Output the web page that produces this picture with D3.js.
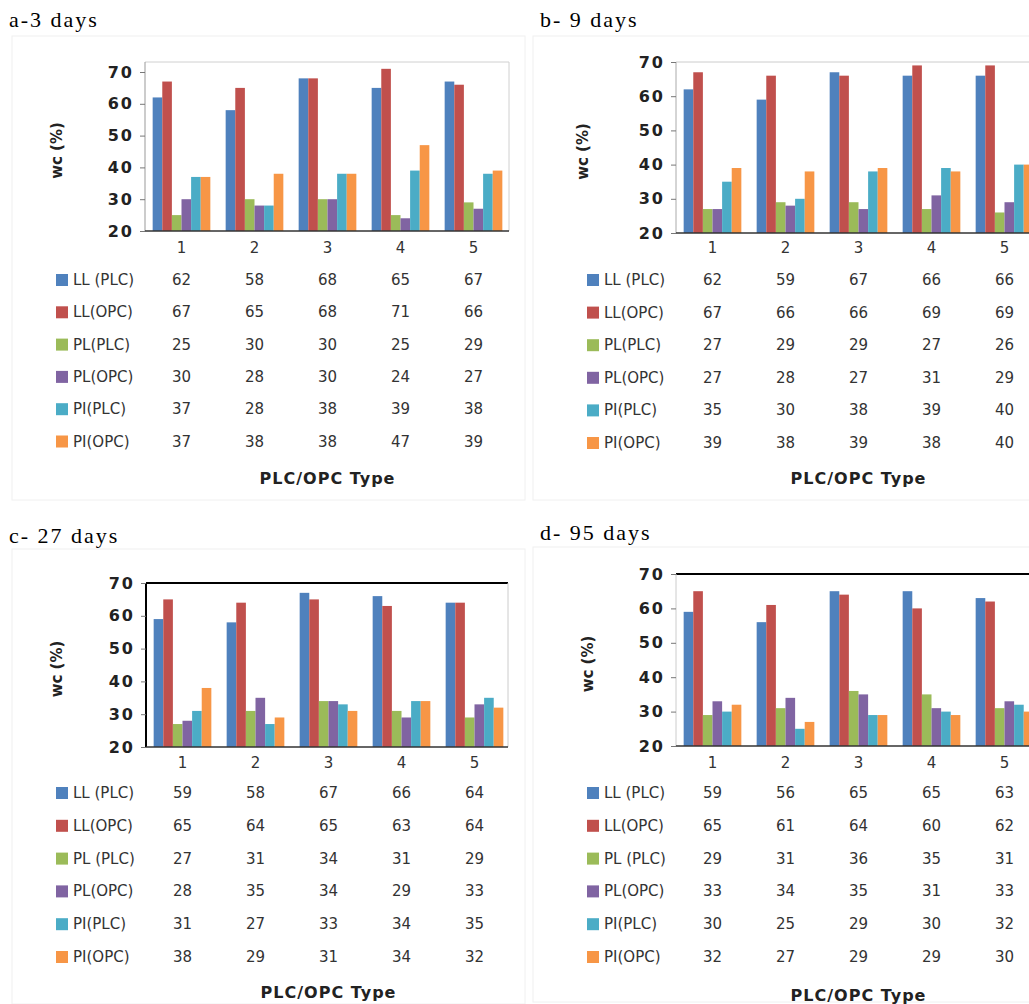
<!DOCTYPE html>
<html>
<head>
<meta charset="utf-8">
<script src="https://cdn.jsdelivr.net/npm/d3@7"></script>
<style>
  body { margin: 0; background: #fff; }
  svg { display: block; }
</style>
</head>
<body>
<svg id="chart" width="1029" height="1004"></svg>
<script>
// categories (PLC/OPC type) and series
var categories = ["1", "2", "3", "4", "5"];
var seriesColors = ["#4F81BD", "#C0504D", "#9BBB59", "#8064A2", "#4BACC6", "#F79646"];
var yTicks = [20, 30, 40, 50, 60, 70];

var labels3 = ["LL (PLC)", "LL(OPC)", "PL(PLC)", "PL(OPC)", "PI(PLC)", "PI(OPC)"];
var labels27 = ["LL (PLC)", "LL(OPC)", "PL (PLC)", "PL(OPC)", "PI(PLC)", "PI(OPC)"];

// one row per series, one value per category
var days3 = [
  [62, 58, 68, 65, 67],
  [67, 65, 68, 71, 66],
  [25, 30, 30, 25, 29],
  [30, 28, 30, 24, 27],
  [37, 28, 38, 39, 38],
  [37, 38, 38, 47, 39]
];
var days9 = [
  [62, 59, 67, 66, 66],
  [67, 66, 66, 69, 69],
  [27, 29, 29, 27, 26],
  [27, 28, 27, 31, 29],
  [35, 30, 38, 39, 40],
  [39, 38, 39, 38, 40]
];
var days27 = [
  [59, 58, 67, 66, 64],
  [65, 64, 65, 63, 64],
  [27, 31, 34, 31, 29],
  [28, 35, 34, 29, 33],
  [31, 27, 33, 34, 35],
  [38, 29, 31, 34, 32]
];
var days95 = [
  [59, 56, 65, 65, 63],
  [65, 61, 64, 60, 62],
  [29, 31, 36, 35, 31],
  [33, 34, 35, 31, 33],
  [30, 25, 29, 30, 32],
  [32, 27, 29, 29, 30]
];

// layout of the four panels
var panels = [
  {title: "a-3 days", data: days3, names: labels3, tx: 9, ty: 27,
   frame: [12, 36, 513, 464], left: 145, right: 509, y20: 231, y70: 72, top: 62,
   catY: 248, row0: 280, rowStep: 32.3, xTitleY: 478, legX: 56, wcX: 57,
   leftCol: "#999", topCol: "#d0d0d0", topW: 1, rightCol: "#d0d0d0"},
  {title: "b- 9 days", data: days9, names: labels3, tx: 540, ty: 27,
   frame: [533, 36, 520, 464], left: 676, right: 1045, y20: 233, y70: 62, top: 62,
   catY: 248, row0: 280, rowStep: 32.6, xTitleY: 478, legX: 587, wcX: 583,
   leftCol: "#aaa", topCol: "#ccc", topW: 1, rightCol: null},
  {title: "c- 27 days", data: days27, names: labels27, tx: 9, ty: 543,
   frame: [12, 549, 513, 455], left: 146, right: 508, y20: 747, y70: 583, top: 583,
   catY: 763, row0: 793, rowStep: 32.8, xTitleY: 992, legX: 56, wcX: 57,
   leftCol: "#000", topCol: "#000", topW: 2, rightCol: "#ccc"},
  {title: "d- 95 days", data: days95, names: labels27, tx: 540, ty: 540,
   frame: [533, 547, 520, 455], left: 676, right: 1045, y20: 746, y70: 574, top: 574,
   catY: 763, row0: 793, rowStep: 32.8, xTitleY: 995, legX: 587, wcX: 588,
   leftCol: "#ccc", topCol: "#000", topW: 2, rightCol: null}
];

var svg = d3.select("#chart");

panels.forEach(function(p) {
  var g = svg.append("g");

  // faint chart-area border
  g.append("rect")
    .attr("x", p.frame[0]).attr("y", p.frame[1])
    .attr("width", p.frame[2]).attr("height", p.frame[3])
    .attr("fill", "none").attr("stroke", "#f0f0f0");

  g.append("text")
    .attr("x", p.tx).attr("y", p.ty)
    .attr("font-family", "Liberation Serif, serif")
    .attr("font-size", 22).attr("letter-spacing", 2)
    .attr("fill", "#000")
    .text(p.title);

  var x0 = d3.scaleBand().domain(categories).range([p.left, p.left + 5 * 73])
    .paddingInner(0.21).paddingOuter(0.105);
  var x1 = d3.scaleBand().domain(d3.range(6)).range([0, x0.bandwidth()]);
  var y = d3.scaleLinear().domain([20, 70]).range([p.y20, p.y70]);

  // top and right plot frame
  g.append("line")
    .attr("x1", p.left).attr("x2", p.right).attr("y1", p.top).attr("y2", p.top)
    .attr("stroke", p.topCol).attr("stroke-width", p.topW);
  if (p.rightCol) {
    g.append("line")
      .attr("x1", p.right).attr("x2", p.right).attr("y1", p.top).attr("y2", p.y20)
      .attr("stroke", p.rightCol);
  }

  // bars
  var groups = g.selectAll("g.series")
    .data(p.data)
    .enter().append("g")
    .attr("class", "series")
    .attr("fill", function(d, i) { return seriesColors[i]; });

  groups.each(function(vals, si) {
    d3.select(this).selectAll("rect")
      .data(vals)
      .enter().append("rect")
      .attr("x", function(d, ci) { return x0(categories[ci]) + x1(si); })
      .attr("width", x1.bandwidth())
      .attr("y", function(d) { return y(d); })
      .attr("height", function(d) { return y(20) - y(d); });
  });

  // y axis
  var yAxis = d3.axisLeft(y).tickValues(yTicks).tickSize(5).tickPadding(6);
  var ya = g.append("g")
    .attr("transform", "translate(" + p.left + ",0)")
    .call(yAxis);
  ya.select(".domain").attr("stroke", p.leftCol)
    .attr("stroke-width", p.leftCol === "#000" ? 2 : 1)
    .attr("d", "M0," + p.y20 + "V" + p.top);
  ya.selectAll(".tick line").attr("stroke", "#777");
  ya.selectAll(".tick text")
    .attr("font-family", "DejaVu Sans, sans-serif")
    .attr("font-size", 16).attr("font-weight", "bold")
    .attr("letter-spacing", 2).attr("fill", "#222");

  // x axis line
  g.append("line")
    .attr("x1", p.left).attr("x2", p.right).attr("y1", p.y20).attr("y2", p.y20)
    .attr("stroke", "#333").attr("stroke-width", 1.5);

  // y title
  g.append("text")
    .attr("transform", "translate(" + p.wcX + "," + ((p.top + p.y20) / 2 + 4) + ") rotate(-90)")
    .attr("text-anchor", "middle").attr("dominant-baseline", "central")
    .attr("font-family", "DejaVu Sans, sans-serif")
    .attr("font-size", 15).attr("font-weight", "bold").attr("fill", "#222")
    .text("wc (%)");

  // category labels
  g.selectAll("text.cat")
    .data(categories)
    .enter().append("text")
    .attr("class", "cat")
    .attr("x", function(d) { return x0(d) + x0.bandwidth() / 2; })
    .attr("y", p.catY)
    .attr("text-anchor", "middle").attr("dominant-baseline", "central")
    .attr("font-family", "DejaVu Sans, sans-serif")
    .attr("font-size", 15).attr("fill", "#333")
    .text(function(d) { return d; });

  // data table with legend keys
  p.data.forEach(function(vals, si) {
    var ry = p.row0 + si * p.rowStep;
    g.append("rect")
      .attr("x", p.legX).attr("y", ry - 6)
      .attr("width", 12).attr("height", 12)
      .attr("fill", seriesColors[si]);
    g.append("text")
      .attr("x", p.legX + 17).attr("y", ry)
      .attr("dominant-baseline", "central")
      .attr("font-family", "DejaVu Sans, sans-serif")
      .attr("font-size", 15).attr("fill", "#333")
      .text(p.names[si]);
    g.selectAll("text.v" + si)
      .data(vals)
      .enter().append("text")
      .attr("class", "v" + si)
      .attr("x", function(d, ci) { return x0(categories[ci]) + x0.bandwidth() / 2; })
      .attr("y", ry)
      .attr("text-anchor", "middle").attr("dominant-baseline", "central")
      .attr("font-family", "DejaVu Sans, sans-serif")
      .attr("font-size", 15).attr("fill", "#333")
      .text(function(d) { return d; });
  });

  g.append("text")
    .attr("x", p.left + 5 * 73 / 2).attr("y", p.xTitleY)
    .attr("text-anchor", "middle").attr("dominant-baseline", "central")
    .attr("font-family", "DejaVu Sans, sans-serif")
    .attr("font-size", 16).attr("font-weight", "bold")
    .attr("letter-spacing", 1).attr("fill", "#222")
    .text("PLC/OPC Type");
});
</script>
</body>
</html>
